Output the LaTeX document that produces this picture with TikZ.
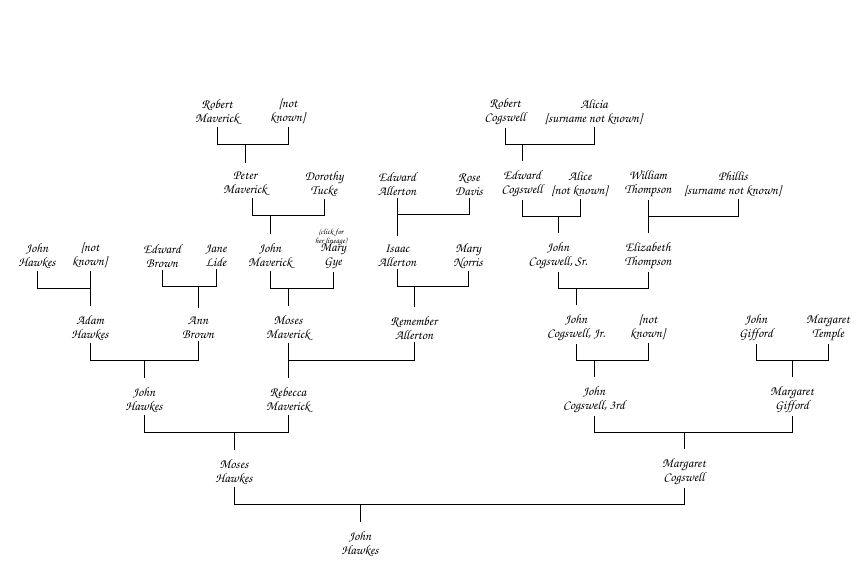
\documentclass[tikz,border=0pt]{standalone}
\usepackage[T1,TU]{fontenc}
\newcommand\chanc{\fontencoding{T1}\fontfamily{pzc}\fontseries{m}\fontshape{it}\selectfont}

\begin{document}
\begin{tikzpicture}[x=1pt,y=-1pt,
		person/.style = {align=center,inner sep=2pt,font=\chanc\fontsize{13}{14}\selectfont},
		remark/.style = {align=center,inner sep=0pt,font=\chanc\fontsize{8}{8}\selectfont},
		link/.style = {draw,line width=0.9pt}]
		\useasboundingbox (0,0) rectangle (864,576);
		\node [person] (rmav) at (217,112) {Robert\\Maverick};
		\node [person] (nka) at (288,112) {[not\\known]};
		\node [person] (rcog) at (505,112) {Robert\\Cogswell};
		\node [person] (alic) at (594,112) {Alicia\\{[}surname not known]};
		\node [person] (pmav) at (245,184) {Peter\\Maverick};
		\node [person] (dtuc) at (324,184) {Dorothy\\Tucke};
		\node [person] (eall) at (397,184) {Edward\\Allerton};
		\node [person] (rdav) at (469,184) {Rose\\Davis};
		\node [person] (ecog) at (522,184) {Edward\\Cogswell};
		\node [person] (alice) at (580,184) {Alice\\{[}not known]};
		\node [person] (wtho) at (648,184) {William\\Thompson};
		\node [person] (phil) at (733,184) {Phillis\\{[}surname not known]};
		\node [person] (jhaa) at (37,256) {John\\Hawkes};
		\node [person] (nkb) at (90,256) {[not\\known]};
		\node [person] (ebro) at (162,256) {Edward\\Brown};
		\node [person] (jlid) at (216,256) {Jane\\Lide};
		\node [person] (jmav) at (270,256) {John\\Maverick};
		\node [person] (mgye) at (333,256) {Mary\\Gye};
		\node [remark] (lineage) at (331,237) {(click for\\her lineage)};
		\node [person] (iall) at (397,256) {Isaac\\Allerton};
		\node [person] (mnor) at (468,256) {Mary\\Norris};
		\node [person] (jcos) at (558,256) {John\\Cogswell, Sr.};
		\node [person] (etho) at (648,256) {Elizabeth\\Thompson};
		\node [person] (ahaw) at (90,328) {Adam\\Hawkes};
		\node [person] (abro) at (198,328) {Ann\\Brown};
		\node [person] (mmav) at (288,328) {Moses\\Maverick};
		\node [person] (rall) at (414,328) {Remember\\Allerton};
		\node [person] (jcoj) at (576,328) {John\\Cogswell, Jr.};
		\node [person] (nkc) at (648,328) {[not\\known]};
		\node [person] (jgif) at (756,328) {John\\Gifford};
		\node [person] (mtem) at (828,328) {Margaret\\Temple};
		\node [person] (jhab) at (144,400) {John\\Hawkes};
		\node [person] (rebmav) at (288,400) {Rebecca\\Maverick};
		\node [person] (jco3) at (594,400) {John\\Cogswell, 3rd};
		\node [person] (mgif) at (792,400) {Margaret\\Gifford};
		\node [person] (mhaw) at (234,472) {Moses\\Hawkes};
		\node [person] (mcog) at (684,472) {Margaret\\Cogswell};
		\node [person] (jhac) at (360,544) {John\\Hawkes};
		\foreach \a/\b/\c in {rmav/nka/pmav, rcog/alic/ecog,
				eall/rdav/iall, ecog/alice/jcos,
				jhaa/nkb/ahaw, ebro/jlid/abro, jmav/mgye/mmav, iall/mnor/rall, jcos/etho/jcoj,
				ahaw/abro/jhab, mmav/rall/rebmav, jcoj/nkc/jco3, jgif/mtem/mgif,
				jhab/rebmav/mhaw, jco3/mgif/mcog, mhaw/mcog/jhac}
			\draw [link] (\a.south) -- ++(0,17) coordinate (m) -| (\b.south)
				([yshift=7pt]\c.north) -- (\c.north |- m);
		\draw [link] ([xshift=7pt]pmav.south) -- ++(0,17) coordinate (m) -| (dtuc.south)
			([yshift=7pt]jmav.north) -- (jmav.north |- m);
		\draw [link] (wtho.south) -- ++(0,17) coordinate (m) -| ([xshift=5pt]phil.south)
			([yshift=7pt]etho.north) -- (etho.north |- m);
	\end{tikzpicture}
\end{document}
